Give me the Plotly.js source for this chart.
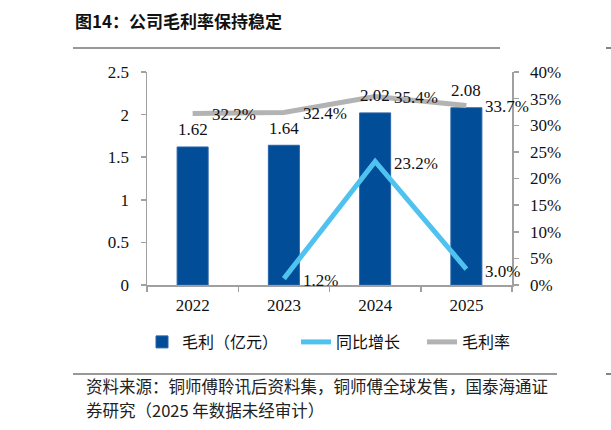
<!DOCTYPE html>
<html>
<head>
<meta charset="utf-8">
<script src="https://cdn.plot.ly/plotly-3.0.1.min.js"></script>
<style>
html,body{margin:0;padding:0;background:#fff;}
#chart{width:611px;height:430px;}
</style>
</head>
<body>
<div id="chart"></div>
<script>
// ---- data ----
var years = ['2022', '2023', '2024', '2025'];
var grossProfit = [1.62, 1.64, 2.02, 2.08];            // 毛利（亿元）
var growthYears = ['2023', '2024', '2025'];
var growth = [0.012, 0.232, 0.030];                    // 同比增长
var grossMargin = [0.322, 0.324, 0.354, 0.337];        // 毛利率
var leftTicks = [0, 0.5, 1, 1.5, 2, 2.5];
var rightTicks = [0, 0.05, 0.10, 0.15, 0.20, 0.25, 0.30, 0.35, 0.40];

var seriesNames = ['毛利（亿元）', '同比增长', '毛利率'];
var titleText = '图14：公司毛利率保持稳定';
var sourceLine1 = '资料来源：铜师傅聆讯后资料集，铜师傅全球发售，国泰海通证';
var sourceLine2 = '券研究（2025 年数据未经审计）';

// ---- layout helpers ----
var W = 611, H = 430;
var L = 147, R = 512, T = 72, B = 285;
function px(x) { return (x - L) / (R - L); }
function py(y) { return (B - y) / (B - T); }

var serif = 'Liberation Serif, Times New Roman, serif';
var cjk = 'Noto Sans CJK SC, sans-serif';
var numFont = {family: serif, size: 17, color: '#111'};

var traces = [
  {
    type: 'bar', x: years, y: grossProfit, name: seriesNames[0],
    width: 0.34, legend: 'legend',
    marker: {color: '#014d97', line: {color: '#2a64a8', width: 1}},
    hoverinfo: 'skip'
  },
  {
    type: 'scatter', mode: 'lines', x: growthYears, y: growth, yaxis: 'y2',
    name: seriesNames[1], legend: 'legend2',
    line: {color: '#4fc2ef', width: 5},
    hoverinfo: 'skip'
  },
  {
    type: 'scatter', mode: 'lines', x: years, y: grossMargin, yaxis: 'y2',
    name: seriesNames[2], legend: 'legend3',
    line: {color: '#b3b3b3', width: 5},
    hoverinfo: 'skip'
  }
];

// on a category axis, annotations are placed by category index
var annotations = [];
years.forEach(function (yr, i) {
  annotations.push({
    x: i, y: grossProfit[i], xref: 'x', yref: 'y',
    text: grossProfit[i].toFixed(2), showarrow: false,
    xanchor: 'center', yanchor: 'middle', yshift: 17, font: numFont
  });
  annotations.push({
    x: i, y: grossMargin[i], xref: 'x', yref: 'y2',
    text: (grossMargin[i] * 100).toFixed(1) + '%', showarrow: false,
    xanchor: 'left', yanchor: 'middle', xshift: 17, yshift: -1, font: numFont
  });
});
growthYears.forEach(function (yr, i) {
  annotations.push({
    x: years.indexOf(yr), y: growth[i], xref: 'x', yref: 'y2',
    text: (growth[i] * 100).toFixed(1) + '%', showarrow: false,
    xanchor: 'left', yanchor: 'middle', xshift: 17, yshift: -2, font: numFont
  });
});
annotations.push({
  xref: 'paper', yref: 'paper', x: px(73), y: py(20),
  xanchor: 'left', yanchor: 'middle', showarrow: false,
  text: '<b>' + titleText + '</b>',
  font: {family: cjk, size: 17, color: '#111'}
});
annotations.push({
  xref: 'paper', yref: 'paper', x: px(84), y: py(386),
  xanchor: 'left', yanchor: 'middle', showarrow: false,
  text: sourceLine1, font: {family: cjk, size: 16.5, color: '#222'}
});
annotations.push({
  xref: 'paper', yref: 'paper', x: px(84), y: py(410),
  xanchor: 'left', yanchor: 'middle', showarrow: false,
  text: sourceLine2, font: {family: cjk, size: 16.5, color: '#222'}
});

var shapes = [
  {type: 'line', xref: 'paper', yref: 'paper', x0: px(73), x1: px(500), y0: py(48), y1: py(48),
   line: {color: '#333', width: 1.2}},
  {type: 'line', xref: 'paper', yref: 'paper', x0: px(73), x1: px(557), y0: py(374), y1: py(374),
   line: {color: '#333', width: 1.2}},
  {type: 'line', xref: 'paper', yref: 'paper', x0: px(606), x1: px(611), y0: py(48), y1: py(48),
   line: {color: '#333', width: 1.2}},
  {type: 'line', xref: 'paper', yref: 'paper', x0: px(606), x1: px(611), y0: py(374), y1: py(374),
   line: {color: '#333', width: 1.2}}
];

var axisCommon = {
  showgrid: false, zeroline: false, showline: true,
  linecolor: '#a0a0a0', linewidth: 1.5,
  ticks: 'outside', ticklen: 5, tickcolor: '#a0a0a0', tickwidth: 1.5,
  tickfont: numFont
};

function legendAt(xPix) {
  return {
    orientation: 'h', x: px(xPix), y: py(342), xanchor: 'left', yanchor: 'middle',
    font: {family: cjk, size: 16, color: '#111'},
    bgcolor: 'rgba(0,0,0,0)'
  };
}

var layout = {
  width: W, height: H,
  margin: {l: L, r: W - R, t: T, b: H - B, pad: 0},
  paper_bgcolor: '#fff', plot_bgcolor: '#fff',
  showlegend: true,
  legend: legendAt(142),
  legend2: legendAt(296),
  legend3: legendAt(422),
  xaxis: Object.assign({}, axisCommon, {
    type: 'category', categoryorder: 'array', categoryarray: years,
    range: [-0.5, years.length - 0.5], autorange: false,
    tickson: 'boundaries', ticklabelstandoff: 4
  }),
  yaxis: Object.assign({}, axisCommon, {
    range: [0, 2.5], autorange: false, tickvals: leftTicks, ticktext: leftTicks.map(String),
    ticklabelstandoff: 8
  }),
  yaxis2: Object.assign({}, axisCommon, {
    overlaying: 'y', side: 'right', range: [0, 0.4], autorange: false,
    tickvals: rightTicks, ticktext: rightTicks.map(function (v) { return Math.round(v * 100) + '%'; }),
    ticklabelstandoff: 8
  }),
  annotations: annotations,
  shapes: shapes
};

Plotly.newPlot('chart', traces, layout, {staticPlot: true, displayModeBar: false});
</script>
</body>
</html>
